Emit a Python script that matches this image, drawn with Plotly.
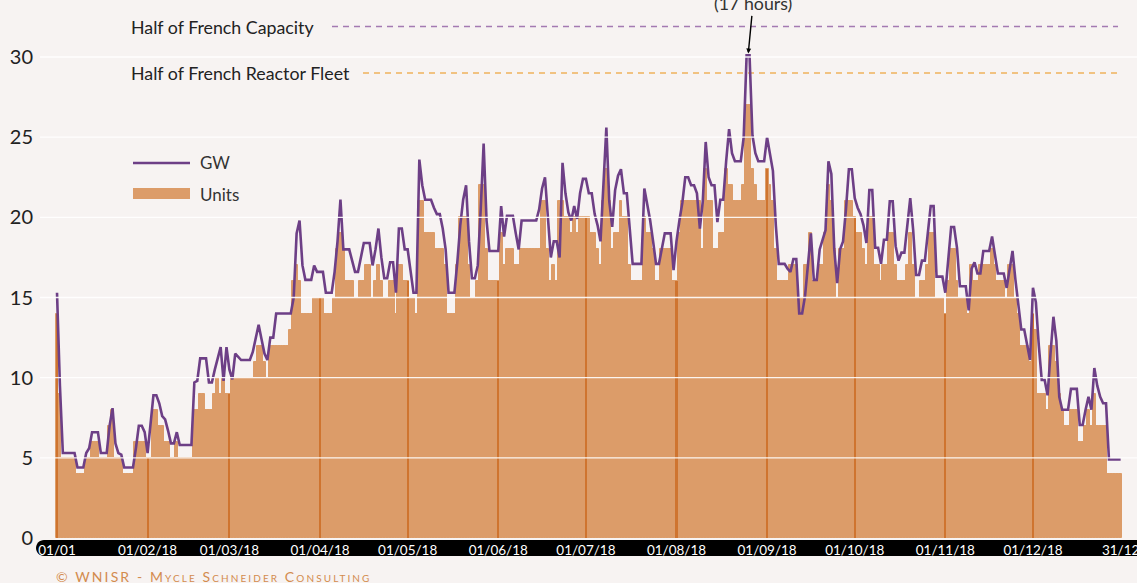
import plotly.graph_objects as go

# ---------------- data ----------------
gw_jan = [15.3, 9.5, 5.3, 5.3, 5.3, 5.3, 5.3, 4.4, 4.4, 4.4, 5.3, 5.6, 6.6, 6.6, 6.6, 5.3, 5.3, 5.3, 7.0, 8.1, 5.9, 5.3, 5.2, 4.4, 4.4, 4.4, 4.4, 5.6, 7.0, 7.0, 6.6]
gw_feb = [5.3, 7.0, 8.9, 8.9, 8.4, 7.6, 7.4, 6.7, 5.9, 5.9, 6.6, 5.8, 5.8, 5.8, 5.8, 5.8, 9.7, 9.8, 11.2, 11.2, 11.2, 9.7, 9.7, 10.5, 11.2, 11.9, 9.8, 11.9]
gw_mar = [10.5, 9.9, 11.5, 11.3, 11.1, 11.1, 11.1, 11.1, 11.6, 12.5, 13.3, 12.4, 11.5, 11.1, 12.5, 12.5, 14.0, 14.0, 14.0, 14.0, 14.0, 14.0, 15.0, 19.0, 19.8, 17.0, 16.1, 16.1, 16.1, 17.0, 16.6]
gw_apr = [16.6, 16.6, 15.3, 15.3, 15.3, 16.6, 18.5, 21.1, 18.0, 18.0, 18.0, 17.3, 16.6, 16.6, 17.5, 18.4, 18.4, 18.4, 17.0, 18.0, 19.3, 17.5, 16.2, 16.2, 17.2, 17.2, 15.3, 19.3, 19.3, 18.0]
gw_may = [18.0, 16.5, 15.3, 15.3, 23.6, 22.0, 21.1, 21.1, 21.1, 20.6, 20.2, 20.2, 19.3, 18.0, 15.3, 15.3, 15.3, 17.2, 19.5, 21.1, 22.0, 18.5, 16.2, 16.2, 17.0, 20.5, 24.6, 19.8, 17.9, 17.9, 17.9]
gw_jun = [17.9, 20.7, 18.8, 20.1, 20.1, 20.1, 19.0, 18.0, 19.8, 19.8, 19.8, 19.8, 19.8, 19.8, 20.5, 21.8, 22.5, 20.0, 17.5, 18.5, 18.5, 17.5, 23.4, 21.5, 20.3, 19.8, 20.7, 19.9, 21.5, 22.4]
gw_jul = [22.4, 21.5, 21.5, 20.2, 19.5, 18.5, 22.5, 25.6, 21.0, 19.4, 21.7, 22.6, 23.0, 21.5, 21.5, 19.0, 17.1, 17.1, 17.1, 17.1, 21.8, 20.9, 19.8, 18.5, 17.1, 17.1, 18.0, 19.0, 19.0, 19.0, 16.7]
gw_aug = [18.5, 19.8, 20.9, 22.5, 22.5, 22.0, 22.0, 21.5, 19.3, 21.0, 24.7, 22.5, 22.0, 22.0, 19.7, 21.1, 21.1, 23.5, 25.5, 24.0, 23.5, 23.5, 23.5, 25.0, 30.1, 30.1, 25.1, 24.0, 23.5, 23.5, 23.5]
gw_sep = [25.0, 24.0, 22.9, 19.5, 17.1, 17.1, 17.1, 16.8, 16.6, 17.4, 17.4, 14.0, 14.0, 15.1, 17.0, 19.0, 16.1, 16.1, 18.0, 18.6, 19.2, 23.5, 22.7, 18.0, 15.9, 18.0, 18.5, 20.5, 23.0, 23.0]
gw_oct = [21.2, 20.6, 20.2, 19.5, 18.4, 21.7, 21.7, 18.1, 18.1, 17.1, 18.6, 18.6, 21.0, 21.0, 18.2, 17.3, 17.8, 17.8, 19.5, 21.2, 19.2, 16.4, 16.4, 17.3, 17.3, 19.0, 20.7, 20.7, 16.3, 16.3, 16.3]
gw_nov = [15.3, 17.5, 19.4, 19.4, 18.1, 15.7, 15.7, 15.7, 14.2, 16.8, 17.2, 16.5, 16.5, 17.9, 17.9, 17.9, 18.8, 17.5, 16.5, 16.5, 16.5, 15.6, 16.8, 17.9, 16.1, 14.5, 13.0, 13.0, 12.0, 11.1]
gw_dec = [15.6, 14.7, 12.0, 9.85, 9.85, 8.9, 11.5, 13.8, 12.3, 8.8, 8.0, 8.0, 8.0, 9.3, 9.3, 9.3, 7.05, 7.05, 8.0, 8.8, 8.0, 10.6, 9.5, 8.8, 8.4, 8.4, 4.9, 4.9, 4.9, 4.9, 4.9]

units_jan = [14, 9, 5, 5, 5, 5, 5, 4, 4, 4, 5, 5, 6, 6, 6, 5, 5, 5, 7, 8, 5, 5, 5, 4, 4, 4, 4, 6, 6, 6, 6]
units_feb = [5, 5, 8, 8, 7, 7, 6, 6, 5, 5, 6, 5, 5, 5, 5, 5, 8, 8, 9, 9, 8, 8, 8, 9, 10, 9, 10, 9]
units_mar = [9, 10, 10, 10, 10, 10, 10, 10, 10, 11, 12, 12, 11, 10, 12, 12, 12, 12, 12, 12, 12, 13, 16, 17, 16, 14, 14, 14, 14, 15, 15]
units_apr = [15, 15, 14, 14, 14, 15, 18, 19, 18, 16, 16, 16, 15, 15, 16, 16, 17, 17, 15, 16, 17, 16, 15, 15, 16, 16, 14, 17, 17, 16]
units_may = [16, 15, 15, 14, 21, 21, 19, 19, 19, 19, 18, 18, 18, 17, 14, 14, 14, 17, 20, 20, 20, 17, 15, 15, 16, 22, 22, 18, 16, 16, 16]
units_jun = [16, 19, 17, 18, 18, 18, 17, 17, 18, 18, 18, 18, 18, 18, 18, 21, 21, 18, 16, 17, 16, 21, 21, 20, 20, 19, 20, 19, 20, 20]
units_jul = [20, 20, 19, 19, 18, 17, 21, 23, 21, 18, 19, 19, 21, 20, 20, 17, 16, 16, 16, 16, 20, 19, 19, 18, 16, 16, 18, 18, 18, 18, 16]
units_aug = [16, 19, 21, 21, 21, 21, 21, 21, 21, 18, 23, 21, 21, 18, 18, 19, 19, 23, 22, 22, 21, 21, 21, 22, 27, 27, 23, 22, 21, 21, 21]
units_sep = [23, 22, 21, 18, 16, 16, 16, 16, 17, 17, 17, 15, 15, 17, 17, 19, 16, 16, 17, 17, 19, 22, 21, 18, 15, 18, 18, 21, 21, 21]
units_oct = [20, 19, 19, 18, 17, 20, 20, 17, 17, 16, 17, 17, 19, 19, 17, 16, 16, 16, 17, 19, 17, 15, 15, 16, 16, 17, 19, 19, 15, 15, 15]
units_nov = [14, 16, 18, 18, 16, 15, 15, 15, 14, 17, 16, 16, 17, 17, 17, 17, 18, 17, 16, 16, 16, 15, 17, 17, 15, 14, 12, 12, 12, 11]
units_dec = [14, 13, 9, 9, 9, 8, 12, 12, 11, 9, 8, 7, 7, 8, 8, 8, 6, 6, 7, 8, 7, 9, 7, 7, 7, 7, 4, 4, 4, 4, 4]

gw = (gw_jan + gw_feb + gw_mar + gw_apr + gw_may + gw_jun + gw_jul + gw_aug
      + gw_sep + gw_oct + gw_nov + gw_dec)
units = (units_jan + units_feb + units_mar + units_apr + units_may + units_jun + units_jul
         + units_aug + units_sep + units_oct + units_nov + units_dec)
assert len(gw) == 365 and len(units) == 365
days = list(range(365))

month_start_idx = [0, 31, 59, 90, 120, 151, 181, 212, 243, 273, 304, 334]
tick_idx = month_start_idx + [364]
tick_text = ["01/01", "01/02/18", "01/03/18", "01/04/18", "01/05/18", "01/06/18",
             "01/07/18", "01/08/18", "01/09/18", "01/10/18", "01/11/18", "01/12/18", "31/12"]
y_ticks = [0, 5, 10, 15, 20, 25, 30]

half_capacity = 31.9
half_fleet = 29.0
grid_vals = [5, 10, 15, 20, 25, 30]
peak_note = "(17 hours)"
legend_names = ["GW", "Units"]
credit = "© WNISR - Mycle Schneider Consulting"

# ---------------- style ----------------
BG = "#f7f3f2"
BAR = "#dc9c69"
BAR_DARK = "#cf742f"
LINE = "#6d3f86"
DASH_PURPLE = "#a47ab2"
DASH_ORANGE = "#f0b25c"
TXT = "#222222"
FONT = "Lato"

W, H = 1137, 583
ML, MR, MT, MB = 40, 0, 0, 43
PW, PH = W - ML - MR, H - MT - MB


def px_x(p):
    return (p - ML) / PW


def px_y(p):
    return (H - MB - p) / PH


fig = go.Figure()

fig.add_trace(go.Bar(
    x=days, y=units, name=legend_names[1], marker=dict(color=BAR, line=dict(width=1, color=BAR)),
    width=1.0, showlegend=False))

fig.add_trace(go.Bar(
    x=month_start_idx, y=[units[i] for i in month_start_idx], name="month start",
    marker=dict(color=BAR_DARK, line=dict(width=0)), width=0.72, showlegend=False))

fig.add_trace(go.Scatter(
    x=days, y=gw, name=legend_names[0], mode="lines", line=dict(color=LINE, width=2.6),
    showlegend=False))

# peak annotation
peak = max(gw)
peak_days = [d for d, v in zip(days, gw) if v == peak]
peak_x = sum(peak_days) / len(peak_days)

shapes = []
# horizontal reference lines
shapes.append(dict(type="line", xref="paper", yref="y", x0=px_x(332), x1=px_x(1118),
                   y0=half_capacity, y1=half_capacity, layer="below",
                   line=dict(color=DASH_PURPLE, width=1.6, dash="6px,5px")))
shapes.append(dict(type="line", xref="paper", yref="y", x0=px_x(363), x1=px_x(1118),
                   y0=half_fleet, y1=half_fleet, layer="below",
                   line=dict(color=DASH_ORANGE, width=1.6, dash="6px,5px")))
# white grid lines drawn over the bars
for g in grid_vals:
    shapes.append(dict(type="line", xref="paper", yref="y", x0=0, x1=1, y0=g, y1=g,
                       layer="above", line=dict(color="rgba(255,255,255,0.9)", width=1.3)))
# black rounded band behind the x tick labels
bx0, bx1, by0, by1 = 36, 1137, 540, 556
r = 8
path = (f"M {px_x(bx0 + r)},{px_y(by0)} L {px_x(bx1)},{px_y(by0)} L {px_x(bx1)},{px_y(by1)} "
        f"L {px_x(bx0 + r)},{px_y(by1)} "
        f"C {px_x(bx0 + r - 4.4)},{px_y(by1)} {px_x(bx0)},{px_y(by1 - 3.6)} {px_x(bx0)},{px_y(by0 + r)} "
        f"C {px_x(bx0)},{px_y(by0 + 3.6)} {px_x(bx0 + r - 4.4)},{px_y(by0)} {px_x(bx0 + r)},{px_y(by0)} Z")
shapes.append(dict(type="path", xref="paper", yref="paper", path=path, layer="below",
                   fillcolor="#000000", line=dict(width=0)))
# legend swatches
shapes.append(dict(type="line", xref="paper", yref="paper", x0=px_x(133), x1=px_x(190),
                   y0=px_y(163), y1=px_y(163), line=dict(color=LINE, width=2.6), layer="above"))
shapes.append(dict(type="rect", xref="paper", yref="paper", x0=px_x(133), x1=px_x(190),
                   y0=px_y(188), y1=px_y(199), fillcolor=BAR, line=dict(width=0), layer="above"))

LBL = dict(family=FONT, size=17.8, color=TXT)
annotations = [
    dict(xref="paper", yref="y", x=px_x(129), y=half_capacity, text="Half of French Capacity",
         showarrow=False, xanchor="left", yanchor="middle", font=LBL),
    dict(xref="paper", yref="y", x=px_x(129), y=half_fleet, text="Half of French Reactor Fleet",
         showarrow=False, xanchor="left", yanchor="middle", font=LBL),
    dict(xref="x", yref="y", x=peak_x, y=peak, text=peak_note, showarrow=True,
         arrowhead=2, arrowsize=0.7, arrowwidth=1.4, arrowcolor="#000000",
         ax=5, ay=-52, standoff=2,
         font=dict(family=FONT, size=17.8, color="#333333")),
    dict(xref="paper", yref="paper", x=px_x(198), y=px_y(163), text=legend_names[0],
         showarrow=False, xanchor="left", yanchor="middle",
         font=dict(family=FONT, size=17, color="#333333")),
    dict(xref="paper", yref="paper", x=px_x(198), y=px_y(194), text=legend_names[1],
         showarrow=False, xanchor="left", yanchor="middle",
         font=dict(family=FONT, size=17, color="#333333")),
    dict(xref="paper", yref="paper", x=px_x(54), y=px_y(576.5),
         text=f'<span style="letter-spacing:2.1px">{credit}</span>', showarrow=False,
         xanchor="left", yanchor="middle",
         font=dict(family=FONT, size=14, color="#d38b4e", variant="small-caps")),
]

fig.update_layout(
    width=W, height=H,
    margin=dict(l=ML, r=MR, t=MT, b=MB, autoexpand=False),
    paper_bgcolor=BG, plot_bgcolor=BG,
    barmode="overlay", bargap=0,
    showlegend=False,
    shapes=shapes, annotations=annotations,
    font=dict(family=FONT),
    hovermode="x",
)

fig.update_xaxes(range=[-5.82, 369.6], showgrid=False, zeroline=False, showline=False,
                 tickmode="array", tickvals=tick_idx, ticktext=tick_text, ticks="",
                 ticklabeloverflow="allow", automargin=False,
                 tickfont=dict(family=FONT, size=13.5, color="#ffffff"), fixedrange=True)
fig.update_yaxes(range=[-0.125, 33.555], showgrid=False, zeroline=False, showline=False,
                 tickmode="array", tickvals=y_ticks, ticks="", automargin=False,
                 ticklabelstandoff=6,
                 tickfont=dict(family=FONT, size=20, color=TXT), fixedrange=True)

fig.write_html("out.html", config={"displayModeBar": False},
               post_script="document.body.style.margin='0';document.body.style.overflow='hidden';")
